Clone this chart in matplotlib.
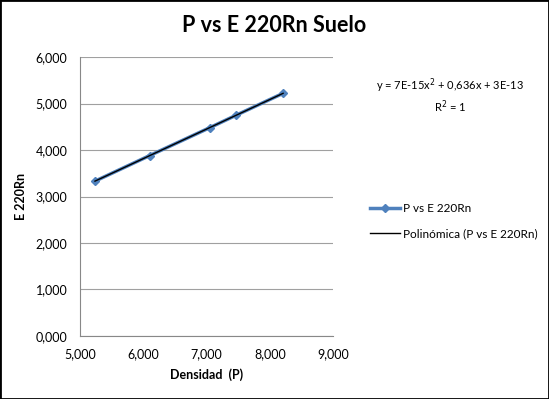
import matplotlib.pyplot as plt
import numpy as np
from matplotlib.patches import Rectangle

plt.rcParams['font.family'] = ['Lato', 'DejaVu Sans']

# data
densidad = [5.237, 6.10, 7.05, 7.47, 8.21]
e220rn = [3.33, 3.88, 4.48, 4.75, 5.22]
xticks = [5, 6, 7, 8, 9]
yticks = [0, 1, 2, 3, 4, 5, 6]

fig = plt.figure(figsize=(5.49, 3.99), dpi=100)
ax = fig.add_axes([0.1457, 0.158, 0.461, 0.699])

ax.plot(densidad, e220rn, color='#4F81BD', lw=2.5, marker='D', ms=4.5,
        label='P vs E 220Rn', zorder=3)

# polynomial (2nd order) trendline
coef = np.polyfit(densidad, e220rn, 2)
xs = np.linspace(min(densidad), max(densidad), 100)
ax.plot(xs, np.polyval(coef, xs), color='black', lw=1,
        label='Polinómica (P vs E 220Rn)', zorder=4)

ax.set_xlim(5, 9)
ax.set_ylim(0, 6)
ax.set_xticks(xticks)
ax.set_yticks(yticks)
ax.set_xticklabels(['%d,000' % t for t in xticks], fontsize=9)
ax.set_yticklabels(['%d,000' % t for t in yticks], fontsize=9)
ax.tick_params(length=0, pad=9)
ax.grid(axis='y', color='#A0A0A0', lw=0.8)
ax.set_axisbelow(True)
for s in ['top', 'right']:
    ax.spines[s].set_visible(False)
for s in ['left', 'bottom']:
    ax.spines[s].set_color('#888888')
    ax.spines[s].set_linewidth(0.8)

ax.set_xlabel('Densidad  (P)', fontsize=9, fontweight='bold', labelpad=6)
ax.set_ylabel('E 220Rn', fontsize=9, fontweight='bold', labelpad=6)

fig.text(0.5, 0.935, 'P vs E 220Rn Suelo', ha='center', va='center',
         fontsize=15.5, fontweight='bold')
fig.text(0.82, 0.76, 'y = 7E-15x$^2$ + 0,636x + 3E-13\nR$^2$ = 1',
         ha='center', va='center', fontsize=8, linespacing=1.3)

leg = fig.legend(loc='center left', bbox_to_anchor=(0.655, 0.445),
                 frameon=False, fontsize=8.5, handlelength=2.5,
                 labelspacing=1.2, handletextpad=0.3)

fig.patches.append(Rectangle((0, 0), 1, 1, transform=fig.transFigure,
                             fill=False, edgecolor='black', lw=2))

fig.savefig('out.png', dpi=100)
